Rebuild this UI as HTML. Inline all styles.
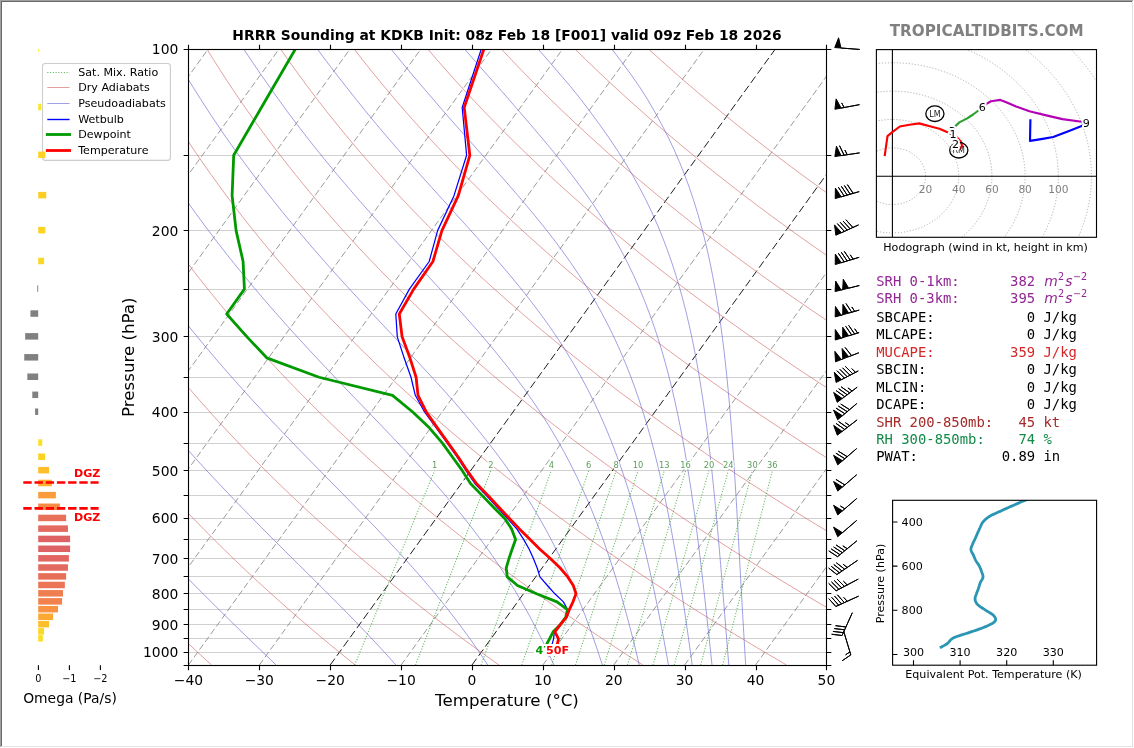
<!DOCTYPE html>
<html><head><meta charset="utf-8"><title>HRRR Sounding KDKB</title>
<style>html,body{margin:0;padding:0;background:#fff;}body{width:1134px;height:748px;overflow:hidden;}svg{display:block;}</style>
</head><body>
<svg width="1134" height="748" viewBox="0 0 1134 748" font-family="'DejaVu Sans', 'Liberation Sans', sans-serif">
<rect width="1134" height="748" fill="#fff"/>
<clipPath id="cs"><rect x="188.4" y="49.05" width="638" height="616"/></clipPath>
<g clip-path="url(#cs)">
<path d="M188.4 155.5H826.4M188.4 230.5H826.4M188.4 289.5H826.4M188.4 336.5H826.4M188.4 377.5H826.4M188.4 412.5H826.4M188.4 443.5H826.4M188.4 470.5H826.4M188.4 495.5H826.4M188.4 518.5H826.4M188.4 539.5H826.4M188.4 558.5H826.4M188.4 576.5H826.4M188.4 593.5H826.4M188.4 609.5H826.4M188.4 624.5H826.4M188.4 638.5H826.4M188.4 652.5H826.4" stroke="#d0d0d0" stroke-width="1.1" fill="none"/>
<path d="M-449.59 665.05L-4.48 49.05M-378.7 665.05L66.41 49.05M-307.82 665.05L137.3 49.05M-236.93 665.05L208.19 49.05M-166.04 665.05L279.08 49.05M-95.15 665.05L349.97 49.05M-24.26 665.05L420.85 49.05M46.63 665.05L491.74 49.05M117.52 665.05L562.63 49.05M188.41 665.05L633.52 49.05M259.3 665.05L704.41 49.05M401.07 665.05L846.19 49.05M542.85 665.05L987.97 49.05M613.74 665.05L1058.86 49.05M684.63 665.05L1129.74 49.05M755.52 665.05L1200.63 49.05M826.41 665.05L1271.52 49.05" stroke="#888" stroke-opacity="0.85" stroke-width="1" stroke-dasharray="6.5 3" fill="none"/>
<path d="M330.19 665.05L775.3 49.05M471.96 665.05L917.08 49.05" stroke="#111" stroke-width="0.95" stroke-dasharray="7.9 3.5" fill="none"/>
<path d="M211.52 665.04 L200.16 654.6 L189.01 644.16 L178.08 633.72 L167.35 623.28 L156.83 612.84 L146.51 602.4 L136.39 591.96 L126.47 581.52 L116.75 571.08 L107.23 560.63 L97.89 550.19 L88.75 539.75 L79.8 529.31 L71.03 518.87 L62.44 508.43 L54.04 497.99 L45.82 487.55 L37.77 477.11 L29.9 466.67 L22.21 456.23 L14.69 445.79 L7.33 435.35 L0.15 424.91 L-6.87 414.47 L-13.73 404.03 L-20.42 393.59 L-26.95 383.15 L-33.32 372.71 L-39.54 362.27 L-45.6 351.82 L-51.51 341.38 L-57.26 330.94 L-62.87 320.5 L-68.33 310.06 L-73.64 299.62 L-78.8 289.18 L-83.82 278.74 L-88.7 268.3 L-93.44 257.86 L-98.05 247.42 L-102.51 236.98 L-106.84 226.54 L-111.03 216.1 L-115.1 205.66 L-119.03 195.22 L-122.83 184.78 L-126.51 174.34 L-130.05 163.9 L-133.48 153.46 L-136.77 143.01 L-139.95 132.57 L-143.01 122.13 L-145.94 111.69 L-148.76 101.25 L-151.46 90.81 L-154.05 80.37 L-156.52 69.93 L-158.88 59.49 L-161.12 49.05M355.28 665.04 L342.3 654.6 L329.55 644.16 L317.03 633.72 L304.73 623.28 L292.66 612.84 L280.81 602.4 L269.18 591.96 L257.76 581.52 L246.56 571.08 L235.57 560.63 L224.79 550.19 L214.21 539.75 L203.84 529.31 L193.68 518.87 L183.71 508.43 L173.94 497.99 L164.36 487.55 L154.98 477.11 L145.79 466.67 L136.79 456.23 L127.97 445.79 L119.34 435.35 L110.89 424.91 L102.62 414.47 L94.53 404.03 L86.62 393.59 L78.88 383.15 L71.31 372.71 L63.92 362.27 L56.69 351.82 L49.63 341.38 L42.73 330.94 L36 320.5 L29.43 310.06 L23.01 299.62 L16.76 289.18 L10.66 278.74 L4.71 268.3 L-1.08 257.86 L-6.73 247.42 L-12.22 236.98 L-17.57 226.54 L-22.77 216.1 L-27.83 205.66 L-32.75 195.22 L-37.52 184.78 L-42.16 174.34 L-46.66 163.9 L-51.02 153.46 L-55.25 143.01 L-59.35 132.57 L-63.31 122.13 L-67.15 111.69 L-70.85 101.25 L-74.43 90.81 L-77.89 80.37 L-81.22 69.93 L-84.42 59.49 L-87.51 49.05M499.04 665.04 L484.44 654.6 L470.09 644.16 L455.98 633.72 L442.11 623.28 L428.49 612.84 L415.11 602.4 L401.96 591.96 L389.05 581.52 L376.37 571.08 L363.91 560.63 L351.68 550.19 L339.68 539.75 L327.89 529.31 L316.33 518.87 L304.97 508.43 L293.83 497.99 L282.91 487.55 L272.19 477.11 L261.67 466.67 L251.36 456.23 L241.26 445.79 L231.35 435.35 L221.64 424.91 L212.12 414.47 L202.79 404.03 L193.66 393.59 L184.71 383.15 L175.95 372.71 L167.37 362.27 L158.98 351.82 L150.76 341.38 L142.73 330.94 L134.87 320.5 L127.18 310.06 L119.66 299.62 L112.32 289.18 L105.14 278.74 L98.13 268.3 L91.28 257.86 L84.59 247.42 L78.07 236.98 L71.7 226.54 L65.49 216.1 L59.44 205.66 L53.54 195.22 L47.79 184.78 L42.19 174.34 L36.74 163.9 L31.43 153.46 L26.28 143.01 L21.26 132.57 L16.39 122.13 L11.65 111.69 L7.06 101.25 L2.6 90.81 L-1.73 80.37 L-5.92 69.93 L-9.97 59.49 L-13.9 49.05M642.8 665.04 L626.58 654.6 L610.62 644.16 L594.93 633.72 L579.5 623.28 L564.33 612.84 L549.41 602.4 L534.75 591.96 L520.34 581.52 L506.17 571.08 L492.25 560.63 L478.58 550.19 L465.14 539.75 L451.94 529.31 L438.97 518.87 L426.24 508.43 L413.73 497.99 L401.45 487.55 L389.4 477.11 L377.56 466.67 L365.94 456.23 L354.54 445.79 L343.35 435.35 L332.38 424.91 L321.61 414.47 L311.05 404.03 L300.7 393.59 L290.54 383.15 L280.59 372.71 L270.83 362.27 L261.27 351.82 L251.9 341.38 L242.72 330.94 L233.73 320.5 L224.93 310.06 L216.31 299.62 L207.87 289.18 L199.62 278.74 L191.54 268.3 L183.64 257.86 L175.91 247.42 L168.36 236.98 L160.97 226.54 L153.76 216.1 L146.71 205.66 L139.82 195.22 L133.1 184.78 L126.54 174.34 L120.14 163.9 L113.89 153.46 L107.8 143.01 L101.87 132.57 L96.08 122.13 L90.45 111.69 L84.96 101.25 L79.63 90.81 L74.43 80.37 L69.39 69.93 L64.48 59.49 L59.71 49.05M786.57 665.04 L768.72 654.6 L751.16 644.16 L733.88 633.72 L716.88 623.28 L700.16 612.84 L683.71 602.4 L667.53 591.96 L651.63 581.52 L635.98 571.08 L620.6 560.63 L605.47 550.19 L590.6 539.75 L575.99 529.31 L561.62 518.87 L547.5 508.43 L533.63 497.99 L520 487.55 L506.6 477.11 L493.44 466.67 L480.52 456.23 L467.83 445.79 L455.36 435.35 L443.12 424.91 L431.11 414.47 L419.31 404.03 L407.73 393.59 L396.37 383.15 L385.22 372.71 L374.29 362.27 L363.56 351.82 L353.04 341.38 L342.72 330.94 L332.6 320.5 L322.68 310.06 L312.96 299.62 L303.43 289.18 L294.1 278.74 L284.96 268.3 L276 257.86 L267.23 247.42 L258.65 236.98 L250.24 226.54 L242.02 216.1 L233.97 205.66 L226.1 195.22 L218.41 184.78 L210.88 174.34 L203.53 163.9 L196.35 153.46 L189.33 143.01 L182.47 132.57 L175.78 122.13 L169.25 111.69 L162.87 101.25 L156.66 90.81 L150.59 80.37 L144.69 69.93 L138.93 59.49 L133.33 49.05M930.33 665.04 L910.86 654.6 L891.69 644.16 L872.83 633.72 L854.26 623.28 L835.99 612.84 L818.01 602.4 L800.32 591.96 L782.91 581.52 L765.79 571.08 L748.94 560.63 L732.37 550.19 L716.07 539.75 L700.04 529.31 L684.27 518.87 L668.77 508.43 L653.53 497.99 L638.54 487.55 L623.81 477.11 L609.33 466.67 L595.1 456.23 L581.11 445.79 L567.37 435.35 L553.87 424.91 L540.6 414.47 L527.57 404.03 L514.77 393.59 L502.2 383.15 L489.86 372.71 L477.74 362.27 L465.85 351.82 L454.17 341.38 L442.71 330.94 L431.47 320.5 L420.43 310.06 L409.61 299.62 L398.99 289.18 L388.58 278.74 L378.37 268.3 L368.36 257.86 L358.55 247.42 L348.93 236.98 L339.51 226.54 L330.28 216.1 L321.24 205.66 L312.39 195.22 L303.72 184.78 L295.23 174.34 L286.93 163.9 L278.8 153.46 L270.85 143.01 L263.08 132.57 L255.47 122.13 L248.04 111.69 L240.78 101.25 L233.69 90.81 L226.76 80.37 L219.99 69.93 L213.38 59.49 L206.94 49.05M1074.09 665.04 L1053 654.6 L1032.23 644.16 L1011.78 633.72 L991.65 623.28 L971.83 612.84 L952.31 602.4 L933.11 591.96 L914.2 581.52 L895.59 571.08 L877.28 560.63 L859.26 550.19 L841.53 539.75 L824.08 529.31 L806.92 518.87 L790.03 508.43 L773.42 497.99 L757.09 487.55 L741.02 477.11 L725.22 466.67 L709.68 456.23 L694.4 445.79 L679.38 435.35 L664.61 424.91 L650.1 414.47 L635.83 404.03 L621.81 393.59 L608.03 383.15 L594.5 372.71 L581.2 362.27 L568.14 351.82 L555.31 341.38 L542.71 330.94 L530.33 320.5 L518.18 310.06 L506.26 299.62 L494.55 289.18 L483.06 278.74 L471.78 268.3 L460.72 257.86 L449.87 247.42 L439.22 236.98 L428.78 226.54 L418.55 216.1 L408.51 205.66 L398.67 195.22 L389.03 184.78 L379.58 174.34 L370.32 163.9 L361.26 153.46 L352.38 143.01 L343.68 132.57 L335.17 122.13 L326.84 111.69 L318.69 101.25 L310.71 90.81 L302.92 80.37 L295.29 69.93 L287.83 59.49 L280.55 49.05M1217.85 665.04 L1195.14 654.6 L1172.76 644.16 L1150.73 633.72 L1129.03 623.28 L1107.66 612.84 L1086.61 602.4 L1065.89 591.96 L1045.49 581.52 L1025.4 571.08 L1005.63 560.63 L986.16 550.19 L966.99 539.75 L948.13 529.31 L929.57 518.87 L911.3 508.43 L893.32 497.99 L875.63 487.55 L858.22 477.11 L841.1 466.67 L824.25 456.23 L807.68 445.79 L791.38 435.35 L775.36 424.91 L759.59 414.47 L744.09 404.03 L728.85 393.59 L713.87 383.15 L699.14 372.71 L684.66 362.27 L670.43 351.82 L656.44 341.38 L642.7 330.94 L629.2 320.5 L615.93 310.06 L602.91 299.62 L590.11 289.18 L577.54 278.74 L565.2 268.3 L553.08 257.86 L541.19 247.42 L529.51 236.98 L518.05 226.54 L506.81 216.1 L495.78 205.66 L484.95 195.22 L474.34 184.78 L463.93 174.34 L453.72 163.9 L443.71 153.46 L433.9 143.01 L424.29 132.57 L414.87 122.13 L405.64 111.69 L396.6 101.25 L387.74 90.81 L379.08 80.37 L370.59 69.93 L362.29 59.49 L354.16 49.05M1361.61 665.04 L1337.27 654.6 L1313.3 644.16 L1289.68 633.72 L1266.41 623.28 L1243.49 612.84 L1220.91 602.4 L1198.68 591.96 L1176.78 581.52 L1155.21 571.08 L1133.97 560.63 L1113.05 550.19 L1092.46 539.75 L1072.18 529.31 L1052.22 518.87 L1032.56 508.43 L1013.22 497.99 L994.18 487.55 L975.43 477.11 L956.99 466.67 L938.83 456.23 L920.97 445.79 L903.39 435.35 L886.1 424.91 L869.09 414.47 L852.35 404.03 L835.89 393.59 L819.7 383.15 L803.77 372.71 L788.11 362.27 L772.72 351.82 L757.58 341.38 L742.7 330.94 L728.07 320.5 L713.69 310.06 L699.55 299.62 L685.67 289.18 L672.02 278.74 L658.61 268.3 L645.44 257.86 L632.51 247.42 L619.8 236.98 L607.32 226.54 L595.07 216.1 L583.04 205.66 L571.24 195.22 L559.65 184.78 L548.28 174.34 L537.12 163.9 L526.17 153.46 L515.43 143.01 L504.89 132.57 L494.56 122.13 L484.43 111.69 L474.51 101.25 L464.77 90.81 L455.24 80.37 L445.89 69.93 L436.74 59.49 L427.77 49.05M1505.37 665.04 L1479.41 654.6 L1453.84 644.16 L1428.63 633.72 L1403.79 623.28 L1379.32 612.84 L1355.22 602.4 L1331.46 591.96 L1308.06 581.52 L1285.02 571.08 L1262.31 560.63 L1239.95 550.19 L1217.92 539.75 L1196.23 529.31 L1174.87 518.87 L1153.83 508.43 L1133.12 497.99 L1112.72 487.55 L1092.64 477.11 L1072.87 466.67 L1053.41 456.23 L1034.25 445.79 L1015.4 435.35 L996.84 424.91 L978.58 414.47 L960.61 404.03 L942.93 393.59 L925.53 383.15 L908.41 372.71 L891.57 362.27 L875.01 351.82 L858.71 341.38 L842.69 330.94 L826.93 320.5 L811.44 310.06 L796.2 299.62 L781.23 289.18 L766.5 278.74 L752.03 268.3 L737.8 257.86 L723.83 247.42 L710.09 236.98 L696.59 226.54 L683.34 216.1 L670.31 205.66 L657.52 195.22 L644.96 184.78 L632.62 174.34 L620.51 163.9 L608.62 153.46 L596.95 143.01 L585.5 132.57 L574.26 122.13 L563.23 111.69 L552.41 101.25 L541.8 90.81 L531.4 80.37 L521.19 69.93 L511.19 59.49 L501.39 49.05M1649.13 665.04 L1621.55 654.6 L1594.37 644.16 L1567.58 633.72 L1541.18 623.28 L1515.16 612.84 L1489.52 602.4 L1464.25 591.96 L1439.35 581.52 L1414.82 571.08 L1390.65 560.63 L1366.84 550.19 L1343.38 539.75 L1320.28 529.31 L1297.51 518.87 L1275.09 508.43 L1253.01 497.99 L1231.26 487.55 L1209.85 477.11 L1188.76 466.67 L1167.99 456.23 L1147.54 445.79 L1127.41 435.35 L1107.59 424.91 L1088.08 414.47 L1068.87 404.03 L1049.96 393.59 L1031.36 383.15 L1013.05 372.71 L995.03 362.27 L977.3 351.82 L959.85 341.38 L942.68 330.94 L925.8 320.5 L909.19 310.06 L892.85 299.62 L876.78 289.18 L860.98 278.74 L845.44 268.3 L830.17 257.86 L815.15 247.42 L800.38 236.98 L785.87 226.54 L771.6 216.1 L757.58 205.66 L743.8 195.22 L730.27 184.78 L716.97 174.34 L703.91 163.9 L691.08 153.46 L678.48 143.01 L666.1 132.57 L653.96 122.13 L642.03 111.69 L630.32 101.25 L618.83 90.81 L607.56 80.37 L596.5 69.93 L585.64 59.49 L575 49.05M1792.89 665.04 L1763.69 654.6 L1734.91 644.16 L1706.53 633.72 L1678.56 623.28 L1650.99 612.84 L1623.82 602.4 L1597.04 591.96 L1570.64 581.52 L1544.63 571.08 L1519 560.63 L1493.74 550.19 L1468.85 539.75 L1444.32 529.31 L1420.16 518.87 L1396.36 508.43 L1372.91 497.99 L1349.81 487.55 L1327.05 477.11 L1304.64 466.67 L1282.57 456.23 L1260.83 445.79 L1239.41 435.35 L1218.33 424.91 L1197.57 414.47 L1177.13 404.03 L1157 393.59 L1137.19 383.15 L1117.68 372.71 L1098.48 362.27 L1079.58 351.82 L1060.98 341.38 L1042.68 330.94 L1024.67 320.5 L1006.94 310.06 L989.5 299.62 L972.34 289.18 L955.46 278.74 L938.86 268.3 L922.53 257.86 L906.46 247.42 L890.67 236.98 L875.14 226.54 L859.86 216.1 L844.85 205.66 L830.09 195.22 L815.58 184.78 L801.32 174.34 L787.3 163.9 L773.53 153.46 L760 143.01 L746.71 132.57 L733.65 122.13 L720.83 111.69 L708.23 101.25 L695.86 90.81 L683.72 80.37 L671.8 69.93 L660.09 59.49 L648.61 49.05" stroke="#d06060" stroke-opacity="0.6" stroke-width="1" fill="none"/>
<path d="M-124.32 49.05 L-121.05 61.62 L-117.61 74.19 L-113.99 86.76 L-110.27 99.33 L-106.43 111.91 L-102.37 124.48 L-98.12 137.05 L-93.68 149.62 L-89.05 162.19 L-84.22 174.76 L-79.2 187.33 L-73.99 199.9 L-68.58 212.48 L-62.97 225.05 L-57.15 237.62 L-51.13 250.19 L-44.9 262.76 L-38.45 275.33 L-31.8 287.9 L-24.92 300.47 L-17.83 313.05 L-10.51 325.62 L-2.97 338.19 L4.8 350.76 L12.8 363.33 L21.04 375.9 L29.52 388.47 L38.23 401.04 L47.19 413.62 L56.4 426.19 L65.86 438.76 L75.56 451.33 L85.52 463.9 L95.74 476.47 L106.21 489.04 L116.94 501.61 L127.92 514.19 L139.15 526.76 L150.64 539.33 L162.36 551.9 L174.32 564.47 L186.5 577.04 L198.89 589.61 L211.46 602.18 L224.19 614.75 L237.06 627.33 L250.02 639.9 L263.05 652.47 L276.08 665.04M-50.71 49.05 L-46.42 61.62 L-41.95 74.19 L-37.29 86.76 L-32.51 99.33 L-27.61 111.91 L-22.47 124.48 L-17.12 137.05 L-11.57 149.62 L-5.81 162.19 L0.16 174.76 L6.34 187.33 L12.73 199.9 L19.33 212.48 L26.15 225.05 L33.2 237.62 L40.46 250.19 L47.95 262.76 L55.67 275.33 L63.62 287.9 L71.8 300.47 L80.23 313.05 L88.89 325.62 L97.79 338.19 L106.94 350.76 L116.34 363.33 L125.99 375.9 L135.89 388.47 L146.05 401.04 L156.45 413.62 L167.11 426.19 L178.02 438.76 L189.18 451.33 L200.57 463.9 L212.2 476.47 L224.05 489.04 L236.1 501.61 L248.34 514.19 L260.74 526.76 L273.27 539.33 L285.9 551.9 L298.57 564.47 L311.26 577.04 L323.9 589.61 L336.45 602.18 L348.85 614.75 L361.06 627.33 L373.01 639.9 L384.67 652.47 L396.01 665.04M22.91 49.05 L28.21 61.62 L33.71 74.19 L39.42 86.76 L45.25 99.33 L51.21 111.91 L57.43 124.48 L63.87 137.05 L70.54 149.62 L77.43 162.19 L84.54 174.76 L91.88 187.33 L99.44 199.9 L107.24 212.48 L115.27 225.05 L123.53 237.62 L132.04 250.19 L140.78 262.76 L149.77 275.33 L159.01 287.9 L168.49 300.47 L178.23 313.05 L188.21 325.62 L198.45 338.19 L208.93 350.76 L219.66 363.33 L230.63 375.9 L241.84 388.47 L253.28 401.04 L264.93 413.62 L276.77 426.19 L288.79 438.76 L300.96 451.33 L313.23 463.9 L325.59 476.47 L337.97 489.04 L350.33 501.61 L362.61 514.19 L374.77 526.76 L386.74 539.33 L398.47 551.9 L409.91 564.47 L421.01 577.04 L431.76 589.61 L442.11 602.18 L452.06 614.75 L461.6 627.33 L470.72 639.9 L479.44 652.47 L487.76 665.04M96.52 49.05 L102.84 61.62 L109.37 74.19 L116.12 86.76 L123 99.33 L130.03 111.91 L137.33 124.48 L144.87 137.05 L152.65 149.62 L160.66 162.19 L168.92 174.76 L177.41 187.33 L186.15 199.9 L195.13 212.48 L204.35 225.05 L213.83 237.62 L223.55 250.19 L233.52 262.76 L243.74 275.33 L254.21 287.9 L264.92 300.47 L275.86 313.05 L287.03 325.62 L298.41 338.19 L309.98 350.76 L321.73 363.33 L333.63 375.9 L345.64 388.47 L357.72 401.04 L369.83 413.62 L381.92 426.19 L393.92 438.76 L405.78 451.33 L417.44 463.9 L428.84 476.47 L439.94 489.04 L450.69 501.61 L461.05 514.19 L471.01 526.76 L480.54 539.33 L489.64 551.9 L498.3 564.47 L506.55 577.04 L514.38 589.61 L521.83 602.18 L528.9 614.75 L535.62 627.33 L542.02 639.9 L548.11 652.47 L553.92 665.04M170.13 49.05 L177.47 61.62 L185.03 74.19 L192.82 86.76 L200.76 99.33 L208.84 111.91 L217.22 124.48 L225.85 137.05 L234.73 149.62 L243.86 162.19 L253.24 174.76 L262.87 187.33 L272.75 199.9 L282.87 212.48 L293.24 225.05 L303.84 237.62 L314.67 250.19 L325.73 262.76 L336.98 275.33 L348.42 287.9 L360.02 300.47 L371.75 313.05 L383.56 325.62 L395.42 338.19 L407.27 350.76 L419.06 363.33 L430.73 375.9 L442.2 388.47 L453.43 401.04 L464.37 413.62 L474.95 426.19 L485.14 438.76 L494.91 451.33 L504.24 463.9 L513.12 476.47 L521.56 489.04 L529.55 501.61 L537.12 514.19 L544.28 526.76 L551.05 539.33 L557.45 551.9 L563.51 564.47 L569.25 577.04 L574.7 589.61 L579.87 602.18 L584.8 614.75 L589.49 627.33 L593.98 639.9 L598.28 652.47 L602.4 665.04M243.74 49.05 L252.09 61.62 L260.68 74.19 L269.51 86.76 L278.49 99.33 L287.62 111.91 L297.05 124.48 L306.74 137.05 L316.69 149.62 L326.88 162.19 L337.31 174.76 L347.97 187.33 L358.85 199.9 L369.92 212.48 L381.18 225.05 L392.59 237.62 L404.12 250.19 L415.73 262.76 L427.37 275.33 L438.98 287.9 L450.51 300.47 L461.9 313.05 L473.08 325.62 L483.98 338.19 L494.56 350.76 L504.76 363.33 L514.54 375.9 L523.89 388.47 L532.77 401.04 L541.19 413.62 L549.15 426.19 L556.66 438.76 L563.74 451.33 L570.4 463.9 L576.67 476.47 L582.57 489.04 L588.13 501.61 L593.38 514.19 L598.33 526.76 L603.01 539.33 L607.45 551.9 L611.65 564.47 L615.66 577.04 L619.47 589.61 L623.12 602.18 L626.61 614.75 L629.96 627.33 L633.19 639.9 L636.3 652.47 L639.31 665.04M317.36 49.05 L326.7 61.62 L336.29 74.19 L346.12 86.76 L356.09 99.33 L366.2 111.91 L376.6 124.48 L387.23 137.05 L398.07 149.62 L409.1 162.19 L420.29 174.76 L431.6 187.33 L443 199.9 L454.43 212.48 L465.84 225.05 L477.17 237.62 L488.35 250.19 L499.32 262.76 L510.01 275.33 L520.36 287.9 L530.32 300.47 L539.86 313.05 L548.94 325.62 L557.55 338.19 L565.68 350.76 L573.33 363.33 L580.53 375.9 L587.27 388.47 L593.6 401.04 L599.52 413.62 L605.07 426.19 L610.28 438.76 L615.16 451.33 L619.74 463.9 L624.06 476.47 L628.12 489.04 L631.95 501.61 L635.58 514.19 L639.02 526.76 L642.28 539.33 L645.39 551.9 L648.36 564.47 L651.19 577.04 L653.92 589.61 L656.54 602.18 L659.07 614.75 L661.52 627.33 L663.9 639.9 L666.21 652.47 L668.47 665.04M390.97 49.05 L401.24 61.62 L411.73 74.19 L422.44 86.76 L433.22 99.33 L444.05 111.91 L455.08 124.48 L466.23 137.05 L477.44 149.62 L488.66 162.19 L499.82 174.76 L510.85 187.33 L521.69 199.9 L532.26 212.48 L542.5 225.05 L552.36 237.62 L561.79 250.19 L570.76 262.76 L579.25 275.33 L587.24 287.9 L594.75 300.47 L601.78 313.05 L608.35 325.62 L614.48 338.19 L620.2 350.76 L625.53 363.33 L630.5 375.9 L635.14 388.47 L639.47 401.04 L643.52 413.62 L647.31 426.19 L650.87 438.76 L654.21 451.33 L657.35 463.9 L660.32 476.47 L663.12 489.04 L665.78 501.61 L668.3 514.19 L670.71 526.76 L673.01 539.33 L675.21 551.9 L677.33 564.47 L679.37 577.04 L681.34 589.61 L683.26 602.18 L685.12 614.75 L686.94 627.33 L688.73 639.9 L690.48 652.47 L692.21 665.04M464.58 49.05 L475.54 61.62 L486.62 74.19 L497.78 86.76 L508.81 99.33 L519.64 111.91 L530.47 124.48 L541.18 137.05 L551.66 149.62 L561.85 162.19 L571.68 174.76 L581.1 187.33 L590.07 199.9 L598.55 212.48 L606.54 225.05 L614.03 237.62 L621.02 250.19 L627.54 262.76 L633.6 275.33 L639.23 287.9 L644.45 300.47 L649.3 313.05 L653.79 325.62 L657.96 338.19 L661.84 350.76 L665.45 363.33 L668.8 375.9 L671.93 388.47 L674.86 401.04 L677.59 413.62 L680.16 426.19 L682.57 438.76 L684.84 451.33 L686.98 463.9 L689.01 476.47 L690.94 489.04 L692.78 501.61 L694.54 514.19 L696.22 526.76 L697.84 539.33 L699.4 551.9 L700.91 564.47 L702.38 577.04 L703.82 589.61 L705.23 602.18 L706.61 614.75 L707.97 627.33 L709.32 639.9 L710.66 652.47 L712 665.04M538.19 49.05 L549.17 61.62 L560.02 74.19 L570.69 86.76 L580.8 99.33 L590.28 111.91 L599.56 124.48 L608.46 137.05 L616.92 149.62 L624.9 162.19 L632.38 174.76 L639.37 187.33 L645.88 199.9 L651.91 212.48 L657.5 225.05 L662.66 237.62 L667.43 250.19 L671.83 262.76 L675.9 275.33 L679.65 287.9 L683.12 300.47 L686.32 313.05 L689.28 325.62 L692.03 338.19 L694.58 350.76 L696.95 363.33 L699.15 375.9 L701.2 388.47 L703.12 401.04 L704.92 413.62 L706.61 426.19 L708.2 438.76 L709.71 451.33 L711.13 463.9 L712.48 476.47 L713.78 489.04 L715.01 501.61 L716.2 514.19 L717.35 526.76 L718.47 539.33 L719.55 551.9 L720.61 564.47 L721.66 577.04 L722.69 589.61 L723.71 602.18 L724.73 614.75 L725.74 627.33 L726.76 639.9 L727.79 652.47 L728.83 665.04M611.8 49.05 L621.48 61.62 L630.72 74.19 L639.49 86.76 L647.51 99.33 L654.79 111.91 L661.69 124.48 L668.11 137.05 L674.06 149.62 L679.55 162.19 L684.6 174.76 L689.24 187.33 L693.5 199.9 L697.4 212.48 L700.98 225.05 L704.27 237.62 L707.28 250.19 L710.04 262.76 L712.57 275.33 L714.89 287.9 L717.03 300.47 L719 313.05 L720.81 325.62 L722.48 338.19 L724.02 350.76 L725.45 363.33 L726.78 375.9 L728.01 388.47 L729.16 401.04 L730.24 413.62 L731.25 426.19 L732.2 438.76 L733.1 451.33 L733.96 463.9 L734.78 476.47 L735.56 489.04 L736.32 501.61 L737.06 514.19 L737.77 526.76 L738.48 539.33 L739.18 551.9 L739.87 564.47 L740.57 577.04 L741.26 589.61 L741.97 602.18 L742.68 614.75 L743.41 627.33 L744.15 639.9 L744.91 652.47 L745.69 665.04" stroke="#6060d0" stroke-opacity="0.6" stroke-width="1" fill="none"/>
<path d="M354.67 665.04 L434.52 470.67M415.58 665.04 L490.85 470.67M481.12 665.04 L551.29 470.67M521.77 665.04 L588.67 470.67M551.68 665.04 L616.14 470.67M575.51 665.04 L637.99 470.67M604.23 665.04 L664.3 470.67M627.5 665.04 L685.59 470.67M653.02 665.04 L708.91 470.67M674.25 665.04 L728.29 470.67M700.69 665.04 L752.4 470.67M722.63 665.04 L772.38 470.67" stroke="#2ca02c" stroke-opacity="0.8" stroke-width="1.04" stroke-dasharray="1.04 1.72" fill="none"/>
</g>
<text x="434.52" y="468.07" font-size="8.3" text-anchor="middle" fill="#5a9e5a" stroke="#fff" stroke-width="2.6" stroke-linejoin="round" paint-order="stroke">1</text>
<text x="490.85" y="468.07" font-size="8.3" text-anchor="middle" fill="#5a9e5a" stroke="#fff" stroke-width="2.6" stroke-linejoin="round" paint-order="stroke">2</text>
<text x="551.29" y="468.07" font-size="8.3" text-anchor="middle" fill="#5a9e5a" stroke="#fff" stroke-width="2.6" stroke-linejoin="round" paint-order="stroke">4</text>
<text x="588.67" y="468.07" font-size="8.3" text-anchor="middle" fill="#5a9e5a" stroke="#fff" stroke-width="2.6" stroke-linejoin="round" paint-order="stroke">6</text>
<text x="616.14" y="468.07" font-size="8.3" text-anchor="middle" fill="#5a9e5a" stroke="#fff" stroke-width="2.6" stroke-linejoin="round" paint-order="stroke">8</text>
<text x="637.99" y="468.07" font-size="8.3" text-anchor="middle" fill="#5a9e5a" stroke="#fff" stroke-width="2.6" stroke-linejoin="round" paint-order="stroke">10</text>
<text x="664.3" y="468.07" font-size="8.3" text-anchor="middle" fill="#5a9e5a" stroke="#fff" stroke-width="2.6" stroke-linejoin="round" paint-order="stroke">13</text>
<text x="685.59" y="468.07" font-size="8.3" text-anchor="middle" fill="#5a9e5a" stroke="#fff" stroke-width="2.6" stroke-linejoin="round" paint-order="stroke">16</text>
<text x="708.91" y="468.07" font-size="8.3" text-anchor="middle" fill="#5a9e5a" stroke="#fff" stroke-width="2.6" stroke-linejoin="round" paint-order="stroke">20</text>
<text x="728.29" y="468.07" font-size="8.3" text-anchor="middle" fill="#5a9e5a" stroke="#fff" stroke-width="2.6" stroke-linejoin="round" paint-order="stroke">24</text>
<text x="752.4" y="468.07" font-size="8.3" text-anchor="middle" fill="#5a9e5a" stroke="#fff" stroke-width="2.6" stroke-linejoin="round" paint-order="stroke">30</text>
<text x="772.38" y="468.07" font-size="8.3" text-anchor="middle" fill="#5a9e5a" stroke="#fff" stroke-width="2.6" stroke-linejoin="round" paint-order="stroke">36</text>
<g clip-path="url(#cs)" fill="none" stroke-linejoin="round" stroke-linecap="square">
<path d="M481.3 49.05 L462.2 107.51 L466.6 155.27 L454 195.65 L437.6 230.63 L429.2 261.49 L409.4 289.09 L395.8 314.06 L397.3 336.85 L404.1 357.82 L411 377.24 L415.3 395.31 L424.7 412.22 L436.4 428.1 L447.2 443.07 L457.2 457.24 L466 470.67 L474.8 483.46 L486.4 495.64 L497.1 507.29 L507.4 518.44 L517 529.13 L523.6 539.41 L529.2 549.29 L533.5 558.82 L537.2 568.01 L539.9 576.89 L547.4 585.48 L554.9 593.8 L563.4 601.86 L567.7 609.68 L566 617.28 L560.3 624.66 L554.3 631.83 L553.6 638.82 L552.3 643.47" stroke="#0000ff" stroke-width="1.25"/>
<path d="M295.4 49.05 L261.4 107.51 L233.7 155.27 L232.1 195.65 L236.1 230.63 L243.1 261.49 L244.4 289.09 L226.7 314.06 L247 336.85 L266.7 357.82 L319.1 377.24 L392.5 395.31 L413 412.22 L429.6 428.1 L442.4 443.07 L452.6 457.24 L462.3 470.67 L470.5 483.46 L482.3 495.64 L493.5 507.29 L504.7 518.44 L511.7 529.13 L515.6 539.41 L512.1 549.29 L508.9 558.82 L506.2 568.01 L507.3 576.89 L517.5 585.48 L536.5 593.8 L557 601.86 L567.5 609.68 L565.7 617.28 L560.3 624.66 L553.1 631.83 L549.5 638.82 L547.1 643.47" stroke="#009a00" stroke-width="2.8"/>
<path d="M483.9 49.05 L464.2 107.51 L469.8 155.27 L458.3 195.65 L441.9 230.63 L432.9 261.49 L413.7 289.09 L399.3 314.06 L402.1 336.85 L409.9 357.82 L416.1 377.24 L418 395.31 L426.4 412.22 L437.6 428.1 L448.3 443.07 L458.4 457.24 L467.2 470.67 L476.4 483.46 L488.2 495.64 L498.9 507.29 L509.5 518.44 L519.7 529.13 L530.1 539.41 L539.9 549.29 L550.6 558.82 L560.2 568.01 L567.7 576.89 L573.3 585.48 L576 593.8 L573 601.86 L569.3 609.68 L566.3 617.28 L560.3 624.66 L554.9 631.83 L558.5 638.82 L557.5 643.47" stroke="#ff0000" stroke-width="2.8"/>
</g>
<text x="547.1" y="653.67" font-size="11.1" text-anchor="middle" fill="#009a00" font-weight="bold" stroke="#fff" stroke-width="4" stroke-linejoin="round" paint-order="stroke">47F</text>
<text x="557.5" y="653.67" font-size="11.1" text-anchor="middle" fill="#ff0000" font-weight="bold" stroke="#fff" stroke-width="4" stroke-linejoin="round" paint-order="stroke">50F</text>
<rect x="188.5" y="49.5" width="638" height="616" fill="none" stroke="#000" stroke-width="1.11"/>
<path d="M183.64 49.5H188.5M826.5 49.5H831.36M183.64 155.5H188.5M826.5 155.5H831.36M183.64 230.5H188.5M826.5 230.5H831.36M183.64 289.5H188.5M826.5 289.5H831.36M183.64 336.5H188.5M826.5 336.5H831.36M183.64 377.5H188.5M826.5 377.5H831.36M183.64 412.5H188.5M826.5 412.5H831.36M183.64 443.5H188.5M826.5 443.5H831.36M183.64 470.5H188.5M826.5 470.5H831.36M183.64 495.5H188.5M826.5 495.5H831.36M183.64 518.5H188.5M826.5 518.5H831.36M183.64 539.5H188.5M826.5 539.5H831.36M183.64 558.5H188.5M826.5 558.5H831.36M183.64 576.5H188.5M826.5 576.5H831.36M183.64 593.5H188.5M826.5 593.5H831.36M183.64 609.5H188.5M826.5 609.5H831.36M183.64 624.5H188.5M826.5 624.5H831.36M183.64 638.5H188.5M826.5 638.5H831.36M183.64 652.5H188.5M826.5 652.5H831.36M183.64 665.5H188.5M826.5 665.5H831.36M188.5 665.5V670.36M188.5 49.5V44.64M259.5 665.5V670.36M259.5 49.5V44.64M330.5 665.5V670.36M330.5 49.5V44.64M401.5 665.5V670.36M401.5 49.5V44.64M472.5 665.5V670.36M472.5 49.5V44.64M543.5 665.5V670.36M543.5 49.5V44.64M614.5 665.5V670.36M614.5 49.5V44.64M685.5 665.5V670.36M685.5 49.5V44.64M756.5 665.5V670.36M756.5 49.5V44.64M826.5 665.5V670.36M826.5 49.5V44.64" stroke="#000" stroke-width="1.11" fill="none"/>
<text x="178.3" y="54.05" font-size="13.89" text-anchor="end" fill="#000" >100</text>
<text x="178.3" y="235.63" font-size="13.89" text-anchor="end" fill="#000" >200</text>
<text x="178.3" y="341.85" font-size="13.89" text-anchor="end" fill="#000" >300</text>
<text x="178.3" y="417.22" font-size="13.89" text-anchor="end" fill="#000" >400</text>
<text x="178.3" y="475.67" font-size="13.89" text-anchor="end" fill="#000" >500</text>
<text x="178.3" y="523.44" font-size="13.89" text-anchor="end" fill="#000" >600</text>
<text x="178.3" y="563.82" font-size="13.89" text-anchor="end" fill="#000" >700</text>
<text x="178.3" y="598.8" font-size="13.89" text-anchor="end" fill="#000" >800</text>
<text x="178.3" y="629.66" font-size="13.89" text-anchor="end" fill="#000" >900</text>
<text x="178.3" y="657.26" font-size="13.89" text-anchor="end" fill="#000" >1000</text>
<text x="188.4" y="684.9" font-size="13.89" text-anchor="middle" fill="#000" >−40</text>
<text x="259.29" y="684.9" font-size="13.89" text-anchor="middle" fill="#000" >−30</text>
<text x="330.18" y="684.9" font-size="13.89" text-anchor="middle" fill="#000" >−20</text>
<text x="401.07" y="684.9" font-size="13.89" text-anchor="middle" fill="#000" >−10</text>
<text x="471.96" y="684.9" font-size="13.89" text-anchor="middle" fill="#000" >0</text>
<text x="542.85" y="684.9" font-size="13.89" text-anchor="middle" fill="#000" >10</text>
<text x="613.73" y="684.9" font-size="13.89" text-anchor="middle" fill="#000" >20</text>
<text x="684.62" y="684.9" font-size="13.89" text-anchor="middle" fill="#000" >30</text>
<text x="755.51" y="684.9" font-size="13.89" text-anchor="middle" fill="#000" >40</text>
<text x="826.4" y="684.9" font-size="13.89" text-anchor="middle" fill="#000" >50</text>
<text x="507" y="706" font-size="16.67" text-anchor="middle" fill="#000" >Temperature (°C)</text>
<text transform="translate(134.2 357.2) rotate(-90)" font-size="16.67" text-anchor="middle">Pressure (hPa)</text>
<text x="507" y="39.9" font-size="13.89" text-anchor="middle" fill="#000" font-weight="bold" >HRRR Sounding at KDKB Init: 08z Feb 18 [F001] valid 09z Feb 18 2026</text>
<g>
<polygon points="859.66,49.44 834.74,47.56 838.61,37.82 840.97,48.03" fill="#000" stroke="#000" stroke-width="1.0" stroke-linejoin="miter"/>
<polygon points="859.49,104.65 834.91,109.26 836.14,98.86 841.06,108.11 844.13,107.53 841.67,102.91 844.13,107.53" fill="#000" stroke="#000" stroke-width="1.0" stroke-linejoin="miter"/>
<polygon points="859.57,152.89 834.83,156.55 836.46,146.2 841.02,155.64 844.11,155.18 839.55,145.74 844.11,155.18 847.2,154.72 844.92,150 847.2,154.72" fill="#000" stroke="#000" stroke-width="1.0" stroke-linejoin="miter"/>
<polygon points="859.2,191.62 835.2,198.59 835.41,188.11 841.2,196.85 844.2,195.97 838.41,187.24 844.2,195.97 847.2,195.1 841.41,186.37 847.2,195.1 850.2,194.23 844.41,185.5 850.2,194.23 853.2,193.36 847.41,184.63 853.2,193.36" fill="#000" stroke="#000" stroke-width="1.0" stroke-linejoin="miter"/>
<polygon points="858.57,224.89 835.83,235.28 834.52,224.89 841.52,232.68 844.36,231.38 837.36,223.59 844.36,231.38 847.2,230.08 840.2,222.29 847.2,230.08 850.04,228.78 843.04,220.99 850.04,228.78 852.88,227.48 845.88,219.69 852.88,227.48" fill="#000" stroke="#000" stroke-width="1.0" stroke-linejoin="miter"/>
<polygon points="859.16,257.32 835.24,264.56 835.33,254.09 841.22,262.75 844.21,261.85 838.32,253.18 844.21,261.85 847.2,260.94 841.31,252.27 847.2,260.94 850.19,260.03 844.3,251.37 850.19,260.03 853.18,259.13 850.24,254.8 853.18,259.13" fill="#000" stroke="#000" stroke-width="1.0" stroke-linejoin="miter"/>
<polygon points="859.33,285.52 835.07,291.56 835.69,281.1 841.14,290.05 842.65,289.67 843.27,279.21 848.72,288.16" fill="#000" stroke="#000" stroke-width="1.0" stroke-linejoin="miter"/>
<polygon points="859.22,310.07 835.18,316.95 835.43,306.48 841.19,315.23 842.69,314.8 842.95,304.33 848.7,313.08 851.71,312.22 845.95,303.47 851.71,312.22 854.71,311.36 851.83,306.98 854.71,311.36" fill="#000" stroke="#000" stroke-width="1.0" stroke-linejoin="miter"/>
<polygon points="859.14,332.59 835.26,340.02 835.28,329.54 841.23,338.16 842.72,337.7 842.74,327.22 848.69,335.84 851.68,334.91 845.72,326.29 851.68,334.91 854.66,333.98 848.7,325.36 854.66,333.98 857.64,333.05 854.67,328.74 857.64,333.05" fill="#000" stroke="#000" stroke-width="1.0" stroke-linejoin="miter"/>
<polygon points="858.85,352.75 835.55,361.8 834.84,351.34 841.37,359.53 842.83,358.97 842.12,348.52 848.66,356.71 851.57,355.58 845.04,347.38 851.57,355.58" fill="#000" stroke="#000" stroke-width="1.0" stroke-linejoin="miter"/>
<polygon points="858.28,370.9 836.12,382.47 834.26,372.16 841.66,379.58 844.43,378.13 837.03,370.72 844.43,378.13 847.2,376.69 839.8,369.27 847.2,376.69 849.97,375.24 842.57,367.82 849.97,375.24 852.74,373.79 845.34,366.38 852.74,373.79 855.51,372.35 851.81,368.64 855.51,372.35" fill="#000" stroke="#000" stroke-width="1.0" stroke-linejoin="miter"/>
<polygon points="857.15,387.19 837.25,402.33 833.68,392.48 842.23,398.55 844.71,396.65 836.17,390.59 844.71,396.65 847.2,394.76 838.66,388.7 847.2,394.76 849.69,392.87 841.14,386.8 849.69,392.87 852.17,390.97 847.9,387.94 852.17,390.97" fill="#000" stroke="#000" stroke-width="1.0" stroke-linejoin="miter"/>
<polygon points="856.74,403.59 837.66,419.75 833.58,410.1 842.43,415.71 844.82,413.69 835.97,408.08 844.82,413.69 847.2,411.67 838.35,406.06 847.2,411.67 849.58,409.65 840.74,404.04 849.58,409.65" fill="#000" stroke="#000" stroke-width="1.0" stroke-linejoin="miter"/>
<polygon points="857.08,419.9 837.32,435.2 833.67,425.38 842.26,431.38 844.73,429.46 836.14,423.47 844.73,429.46 847.2,427.55 838.61,421.56 847.2,427.55 849.67,425.64 845.37,422.64 849.67,425.64" fill="#000" stroke="#000" stroke-width="1.0" stroke-linejoin="miter"/>
<polygon points="856.66,448.52 837.74,464.86 833.57,455.25 842.47,460.77 844.84,458.73 835.93,453.21 844.84,458.73 847.2,456.69 838.3,451.16 847.2,456.69" fill="#000" stroke="#000" stroke-width="1.0" stroke-linejoin="miter"/>
<polygon points="856.66,474.73 837.74,491.08 833.57,481.47 842.47,486.99 844.84,484.95 835.93,479.42 844.84,484.95" fill="#000" stroke="#000" stroke-width="1.0" stroke-linejoin="miter"/>
<polygon points="856.66,498.56 837.74,514.91 833.57,505.3 842.47,510.83 844.84,508.78 840.38,506.02 844.84,508.78" fill="#000" stroke="#000" stroke-width="1.0" stroke-linejoin="miter"/>
<polygon points="856.68,520.43 837.72,536.73 833.57,527.11 842.46,532.65" fill="#000" stroke="#000" stroke-width="1.0" stroke-linejoin="miter"/>
<polygon points="856.88,540.83 837.52,556.65 828.77,550.89 837.52,556.65 839.94,554.68 831.19,548.91 839.94,554.68 842.36,552.7 833.61,546.93 842.36,552.7 844.78,550.72 836.03,544.95 844.78,550.72 847.2,548.74 842.83,545.86 847.2,548.74" fill="#000" stroke="#000" stroke-width="1.0" stroke-linejoin="miter"/>
<polygon points="857.51,560.39 836.89,574.53 828.66,568.06 836.89,574.53 839.47,572.77 831.24,566.29 839.47,572.77 842.05,571 833.81,564.52 842.05,571 844.62,569.23 836.39,562.75 844.62,569.23 847.2,567.46 843.08,564.22 847.2,567.46" fill="#000" stroke="#000" stroke-width="1.0" stroke-linejoin="miter"/>
<polygon points="858.25,579.1 836.15,590.77 828.71,583.38 836.15,590.77 838.91,589.31 831.48,581.92 838.91,589.31 841.67,587.85 834.24,580.47 841.67,587.85 844.44,586.39 837.01,579.01 844.44,586.39 847.2,584.93 843.48,581.24 847.2,584.93" fill="#000" stroke="#000" stroke-width="1.0" stroke-linejoin="miter"/>
<polygon points="858.58,596.15 835.82,606.47 828.84,598.66 835.82,606.47 838.66,605.18 831.69,597.37 838.66,605.18 841.51,603.89 834.53,596.08 841.51,603.89 844.35,602.6 837.38,594.79 844.35,602.6 847.2,601.31 843.71,597.4 847.2,601.31" fill="#000" stroke="#000" stroke-width="1.0" stroke-linejoin="miter"/>
<polygon points="852.33,612.71 842.07,635.5 831.67,634.25 842.07,635.5 843.35,632.65 832.95,631.4 843.35,632.65 844.63,629.81 834.23,628.55 844.63,629.81 845.92,626.96 835.52,625.7 845.92,626.96" fill="#000" stroke="#000" stroke-width="1.0" stroke-linejoin="miter"/>
<polygon points="843.58,630.95 850.82,654.88 842.15,660.77 850.82,654.88 849.91,651.89 845.58,654.83 849.91,651.89" fill="#000" stroke="#000" stroke-width="1.0" stroke-linejoin="miter"/>
</g>
<rect x="42.5" y="63.5" width="127.9" height="96.9" rx="2.8" fill="#fff" fill-opacity="0.8" stroke="#cccccc" stroke-width="1.1"/>
<path d="M47.3 72.5H69.6" stroke="#2ca02c" stroke-opacity="0.8" stroke-width="1.04" stroke-dasharray="1.04 1.72"/>
<text x="78.2" y="76.4" font-size="11.1" text-anchor="start" fill="#000" >Sat. Mix. Ratio</text>
<path d="M47.3 87.5H69.6" stroke="#d06060" stroke-opacity="0.6" stroke-width="1.0"/>
<text x="78.2" y="91.4" font-size="11.1" text-anchor="start" fill="#000" >Dry Adiabats</text>
<path d="M47.3 103.5H69.6" stroke="#6060d0" stroke-opacity="0.6" stroke-width="1.0"/>
<text x="78.2" y="107.4" font-size="11.1" text-anchor="start" fill="#000" >Pseudoadiabats</text>
<path d="M47.3 119.5H69.6" stroke="#0000ff" stroke-opacity="1" stroke-width="1.4"/>
<text x="78.2" y="123.4" font-size="11.1" text-anchor="start" fill="#000" >Wetbulb</text>
<path d="M47.3 134.5H69.6" stroke="#009a00" stroke-opacity="1" stroke-width="2.8" stroke-linecap="square"/>
<text x="78.2" y="138.4" font-size="11.1" text-anchor="start" fill="#000" >Dewpoint</text>
<path d="M47.3 150.5H69.6" stroke="#ff0000" stroke-opacity="1" stroke-width="2.8" stroke-linecap="square"/>
<text x="78.2" y="154.4" font-size="11.1" text-anchor="start" fill="#000" >Temperature</text>
<clipPath id="co"><rect x="0" y="49.05" width="188.4" height="616"/></clipPath>
<g clip-path="url(#co)">
<rect x="38.2" y="45.3" width="1.09" height="6.5" fill="#f1f426"/>
<rect x="38.2" y="103.76" width="3.1" height="6.5" fill="#f6e826"/>
<rect x="38.2" y="151.52" width="7.13" height="6.5" fill="#fcd225"/>
<rect x="38.2" y="191.9" width="8.06" height="6.5" fill="#fccd25"/>
<rect x="38.2" y="226.88" width="7.13" height="6.5" fill="#fcd225"/>
<rect x="38.2" y="257.74" width="5.89" height="6.5" fill="#fad824"/>
<rect x="37.27" y="285.34" width="0.93" height="6.5" fill="#808080"/>
<rect x="30.45" y="310.31" width="7.75" height="6.5" fill="#808080"/>
<rect x="25.18" y="333.1" width="13.02" height="6.5" fill="#808080"/>
<rect x="24.25" y="354.07" width="13.95" height="6.5" fill="#808080"/>
<rect x="27.35" y="373.49" width="10.85" height="6.5" fill="#808080"/>
<rect x="32.31" y="391.56" width="5.89" height="6.5" fill="#808080"/>
<rect x="35.1" y="408.47" width="3.1" height="6.5" fill="#808080"/>
<rect x="38.2" y="439.32" width="4.03" height="6.5" fill="#f7e225"/>
<rect x="38.2" y="453.49" width="6.82" height="6.5" fill="#fbd324"/>
<rect x="38.2" y="466.92" width="10.85" height="6.5" fill="#febe2a"/>
<rect x="38.2" y="479.71" width="13.64" height="6.5" fill="#fdaf31"/>
<rect x="38.2" y="491.89" width="17.67" height="6.5" fill="#fa9c3c"/>
<rect x="38.2" y="503.54" width="21.7" height="6.5" fill="#f58b47"/>
<rect x="38.2" y="514.69" width="27.9" height="6.5" fill="#e87059"/>
<rect x="38.2" y="525.38" width="29.76" height="6.5" fill="#e4695e"/>
<rect x="38.2" y="535.66" width="31.93" height="6.5" fill="#de6164"/>
<rect x="38.2" y="545.54" width="31.93" height="6.5" fill="#de6164"/>
<rect x="38.2" y="555.07" width="30.69" height="6.5" fill="#e26561"/>
<rect x="38.2" y="564.26" width="29.76" height="6.5" fill="#e4695e"/>
<rect x="38.2" y="573.14" width="27.9" height="6.5" fill="#e87059"/>
<rect x="38.2" y="581.73" width="26.66" height="6.5" fill="#eb7556"/>
<rect x="38.2" y="590.05" width="24.8" height="6.5" fill="#ef7e50"/>
<rect x="38.2" y="598.11" width="23.87" height="6.5" fill="#f1814d"/>
<rect x="38.2" y="605.93" width="19.84" height="6.5" fill="#f79342"/>
<rect x="38.2" y="613.53" width="14.88" height="6.5" fill="#fca934"/>
<rect x="38.2" y="620.91" width="10.85" height="6.5" fill="#febe2a"/>
<rect x="38.2" y="628.08" width="5.89" height="6.5" fill="#fad824"/>
<rect x="38.2" y="635.07" width="4.65" height="6.5" fill="#f8df25"/>
</g>
<path d="M23.3 482.5H98.6" stroke="#ff0000" stroke-width="2.6" stroke-dasharray="8.4 2.8"/>
<path d="M23.3 508.4H98.6" stroke="#ff0000" stroke-width="2.6" stroke-dasharray="8.4 2.8"/>
<text x="74" y="477.3" font-size="11.1" text-anchor="start" fill="#ff0000" font-weight="bold" >DGZ</text>
<text x="74" y="521.4" font-size="11.1" text-anchor="start" fill="#ff0000" font-weight="bold" >DGZ</text>
<path d="M38.4 665.2V670M69.4 665.2V670M100.4 665.2V670" stroke="#000" stroke-width="1.11"/>
<text x="38.4" y="681.6" font-size="9.7" text-anchor="middle" fill="#000" >0</text>
<text x="69.4" y="681.6" font-size="9.7" text-anchor="middle" fill="#000" >−1</text>
<text x="100.4" y="681.6" font-size="9.7" text-anchor="middle" fill="#000" >−2</text>
<text x="70" y="703.3" font-size="13.89" text-anchor="middle" fill="#000" >Omega (Pa/s)</text>
<clipPath id="ch"><rect x="876.4" y="49.6" width="220.1" height="187.7"/></clipPath>
<g clip-path="url(#ch)">
<ellipse cx="892.4" cy="176.2" rx="33.18" ry="28.36" fill="none" stroke="#a8a8a8" stroke-width="1" stroke-dasharray="1.1 1.9"/>
<ellipse cx="892.4" cy="176.2" rx="66.36" ry="56.72" fill="none" stroke="#a8a8a8" stroke-width="1" stroke-dasharray="1.1 1.9"/>
<ellipse cx="892.4" cy="176.2" rx="99.54" ry="85.08" fill="none" stroke="#a8a8a8" stroke-width="1" stroke-dasharray="1.1 1.9"/>
<ellipse cx="892.4" cy="176.2" rx="132.72" ry="113.44" fill="none" stroke="#a8a8a8" stroke-width="1" stroke-dasharray="1.1 1.9"/>
<ellipse cx="892.4" cy="176.2" rx="165.9" ry="141.8" fill="none" stroke="#a8a8a8" stroke-width="1" stroke-dasharray="1.1 1.9"/>
<ellipse cx="892.4" cy="176.2" rx="199.08" ry="170.16" fill="none" stroke="#a8a8a8" stroke-width="1" stroke-dasharray="1.1 1.9"/>
<ellipse cx="892.4" cy="176.2" rx="232.26" ry="198.52" fill="none" stroke="#a8a8a8" stroke-width="1" stroke-dasharray="1.1 1.9"/>
<ellipse cx="892.4" cy="176.2" rx="265.44" ry="226.88" fill="none" stroke="#a8a8a8" stroke-width="1" stroke-dasharray="1.1 1.9"/>
<ellipse cx="892.4" cy="176.2" rx="298.62" ry="255.24" fill="none" stroke="#a8a8a8" stroke-width="1" stroke-dasharray="1.1 1.9"/>
<path d="M876.4 176.2H1096.5M892.4 49.6V237.3" stroke="#000" stroke-width="1.1"/>
<path d="M884.8 155.1 L887.5 136.2 L892.3 132.2 L899.8 126.5 L909.5 124.7 L919.2 123.4 L928.9 126 L939.5 128.7 L949.2 133.1 L953.1 135.3 L956.6 137 L960.6 141.2 L962.2 146 L959.6 149.2 L956.2 146.4 L953.8 139.5 L952.8 128.8" fill="none" stroke="#ff0000" stroke-width="2.15" stroke-linejoin="round" stroke-linecap="square"/>
<path d="M952.8 128.8 L954.2 127.2 L959.3 122.4 L967.2 118.4 L973.1 114.5 L978.4 110.5 L982.4 107.2" fill="none" stroke="#2ca02c" stroke-width="2.15" stroke-linejoin="round" stroke-linecap="square"/>
<path d="M982.4 107.2 L986.4 103.9 L991 101.2 L1000.3 99.9 L1005.6 101.9 L1016.1 106.5 L1029.4 111.2 L1045.2 115.1 L1062.4 119.1 L1081.6 121.7 L1086.2 123.1" fill="none" stroke="#b400b4" stroke-width="2.15" stroke-linejoin="round" stroke-linecap="square"/>
<path d="M1086.2 123.1 L1082.3 125.7 L1069 131 L1053.2 137 L1042.6 138.9 L1030 140.9 L1030.4 120.4" fill="none" stroke="#0000ff" stroke-width="2.15" stroke-linejoin="round" stroke-linecap="square"/>
<ellipse cx="934.9" cy="113.7" rx="9.1" ry="7.8" fill="none" stroke="#000" stroke-width="1.3"/>
<text x="934.9" y="116.6" font-size="8" text-anchor="middle" fill="#222" >LM</text>
<ellipse cx="958.8" cy="150.2" rx="9.1" ry="7.8" fill="none" stroke="#000" stroke-width="1.3"/>
<text x="958.8" y="153.1" font-size="8" text-anchor="middle" fill="#222" >RM</text>
<text x="952.3" y="134.8" font-size="11.1" text-anchor="middle" fill="#000" stroke="#fff" stroke-width="4" stroke-linejoin="round" paint-order="stroke">3</text>
<text x="955.5" y="147.9" font-size="11.1" text-anchor="middle" fill="#000" stroke="#fff" stroke-width="4" stroke-linejoin="round" paint-order="stroke">2</text>
<text x="953.1" y="138.3" font-size="11.1" text-anchor="middle" fill="#000" stroke="#fff" stroke-width="4" stroke-linejoin="round" paint-order="stroke">1</text>
<text x="982.4" y="111.2" font-size="11.1" text-anchor="middle" fill="#000" stroke="#fff" stroke-width="4" stroke-linejoin="round" paint-order="stroke">6</text>
<text x="1086.2" y="127.1" font-size="11.1" text-anchor="middle" fill="#000" stroke="#fff" stroke-width="4" stroke-linejoin="round" paint-order="stroke">9</text>
</g>
<rect x="876.4" y="49.6" width="220.1" height="187.7" fill="none" stroke="#000" stroke-width="1.11"/>
<text x="925.58" y="193" font-size="10.6" text-anchor="middle" fill="#808080" >20</text>
<text x="958.76" y="193" font-size="10.6" text-anchor="middle" fill="#808080" >40</text>
<text x="991.94" y="193" font-size="10.6" text-anchor="middle" fill="#808080" >60</text>
<text x="1025.12" y="193" font-size="10.6" text-anchor="middle" fill="#808080" >80</text>
<text x="1058.3" y="193" font-size="10.6" text-anchor="middle" fill="#808080" >100</text>
<text x="985.6" y="250.9" font-size="11.1" text-anchor="middle" fill="#000" >Hodograph (wind in kt, height in km)</text>
<text x="876.2" y="285.7" font-family="'DejaVu Sans Mono', 'Liberation Mono', monospace" font-size="13.89" fill="#922694">SRH 0-1km:</text>
<text x="1035.1" y="285.7" font-family="'DejaVu Sans Mono', 'Liberation Mono', monospace" font-size="13.89" fill="#922694" text-anchor="end">382</text>
<text x="1043.46" y="285.7" font-size="13.89" fill="#922694"><tspan font-style="italic" dx="0.9">m</tspan><tspan font-size="9.7" dy="-5.6" dx="0.2">2</tspan><tspan font-style="italic" dy="5.6" dx="1">s</tspan><tspan font-size="9.7" dy="-5.6" dx="0.4">−2</tspan></text>
<text x="876.2" y="302.6" font-family="'DejaVu Sans Mono', 'Liberation Mono', monospace" font-size="13.89" fill="#922694">SRH 0-3km:</text>
<text x="1035.1" y="302.6" font-family="'DejaVu Sans Mono', 'Liberation Mono', monospace" font-size="13.89" fill="#922694" text-anchor="end">395</text>
<text x="1043.46" y="302.6" font-size="13.89" fill="#922694"><tspan font-style="italic" dx="0.9">m</tspan><tspan font-size="9.7" dy="-5.6" dx="0.2">2</tspan><tspan font-style="italic" dy="5.6" dx="1">s</tspan><tspan font-size="9.7" dy="-5.6" dx="0.4">−2</tspan></text>
<text x="876.2" y="321.9" font-family="'DejaVu Sans Mono', 'Liberation Mono', monospace" font-size="13.89" fill="#000">SBCAPE:</text>
<text x="1035.1" y="321.9" font-family="'DejaVu Sans Mono', 'Liberation Mono', monospace" font-size="13.89" fill="#000" text-anchor="end">0</text>
<text x="1043.46" y="321.9" font-family="'DejaVu Sans Mono', 'Liberation Mono', monospace" font-size="13.89" fill="#000">J/kg</text>
<text x="876.2" y="339.3" font-family="'DejaVu Sans Mono', 'Liberation Mono', monospace" font-size="13.89" fill="#000">MLCAPE:</text>
<text x="1035.1" y="339.3" font-family="'DejaVu Sans Mono', 'Liberation Mono', monospace" font-size="13.89" fill="#000" text-anchor="end">0</text>
<text x="1043.46" y="339.3" font-family="'DejaVu Sans Mono', 'Liberation Mono', monospace" font-size="13.89" fill="#000">J/kg</text>
<text x="876.2" y="356.8" font-family="'DejaVu Sans Mono', 'Liberation Mono', monospace" font-size="13.89" fill="#d62728">MUCAPE:</text>
<text x="1035.1" y="356.8" font-family="'DejaVu Sans Mono', 'Liberation Mono', monospace" font-size="13.89" fill="#d62728" text-anchor="end">359</text>
<text x="1043.46" y="356.8" font-family="'DejaVu Sans Mono', 'Liberation Mono', monospace" font-size="13.89" fill="#d62728">J/kg</text>
<text x="876.2" y="374.0" font-family="'DejaVu Sans Mono', 'Liberation Mono', monospace" font-size="13.89" fill="#000">SBCIN:</text>
<text x="1035.1" y="374.0" font-family="'DejaVu Sans Mono', 'Liberation Mono', monospace" font-size="13.89" fill="#000" text-anchor="end">0</text>
<text x="1043.46" y="374.0" font-family="'DejaVu Sans Mono', 'Liberation Mono', monospace" font-size="13.89" fill="#000">J/kg</text>
<text x="876.2" y="391.5" font-family="'DejaVu Sans Mono', 'Liberation Mono', monospace" font-size="13.89" fill="#000">MLCIN:</text>
<text x="1035.1" y="391.5" font-family="'DejaVu Sans Mono', 'Liberation Mono', monospace" font-size="13.89" fill="#000" text-anchor="end">0</text>
<text x="1043.46" y="391.5" font-family="'DejaVu Sans Mono', 'Liberation Mono', monospace" font-size="13.89" fill="#000">J/kg</text>
<text x="876.2" y="409.0" font-family="'DejaVu Sans Mono', 'Liberation Mono', monospace" font-size="13.89" fill="#000">DCAPE:</text>
<text x="1035.1" y="409.0" font-family="'DejaVu Sans Mono', 'Liberation Mono', monospace" font-size="13.89" fill="#000" text-anchor="end">0</text>
<text x="1043.46" y="409.0" font-family="'DejaVu Sans Mono', 'Liberation Mono', monospace" font-size="13.89" fill="#000">J/kg</text>
<text x="876.2" y="426.5" font-family="'DejaVu Sans Mono', 'Liberation Mono', monospace" font-size="13.89" fill="#a52a2a">SHR 200-850mb:</text>
<text x="1035.1" y="426.5" font-family="'DejaVu Sans Mono', 'Liberation Mono', monospace" font-size="13.89" fill="#a52a2a" text-anchor="end">45</text>
<text x="1043.46" y="426.5" font-family="'DejaVu Sans Mono', 'Liberation Mono', monospace" font-size="13.89" fill="#a52a2a">kt</text>
<text x="876.2" y="443.9" font-family="'DejaVu Sans Mono', 'Liberation Mono', monospace" font-size="13.89" fill="#138a48">RH 300-850mb:</text>
<text x="1035.1" y="443.9" font-family="'DejaVu Sans Mono', 'Liberation Mono', monospace" font-size="13.89" fill="#138a48" text-anchor="end">74</text>
<text x="1043.46" y="443.9" font-family="'DejaVu Sans Mono', 'Liberation Mono', monospace" font-size="13.89" fill="#138a48">%</text>
<text x="876.2" y="461.4" font-family="'DejaVu Sans Mono', 'Liberation Mono', monospace" font-size="13.89" fill="#000">PWAT:</text>
<text x="1035.1" y="461.4" font-family="'DejaVu Sans Mono', 'Liberation Mono', monospace" font-size="13.89" fill="#000" text-anchor="end">0.89</text>
<text x="1043.46" y="461.4" font-family="'DejaVu Sans Mono', 'Liberation Mono', monospace" font-size="13.89" fill="#000">in</text>
<clipPath id="ct"><rect x="892.6" y="500.3" width="204" height="164.9"/></clipPath>
<path clip-path="url(#ct)" d="M1026.15 499.9 L1025.14 500.33 L1023.79 500.89 L1022.18 501.57 L1020.39 502.31 L1018.51 503.11 L1016.62 503.91 L1014.8 504.69 L1013.12 505.42 L1011.55 506.11 L1010 506.8 L1008.47 507.49 L1006.95 508.18 L1005.44 508.87 L1003.93 509.56 L1002.44 510.25 L1000.95 510.94 L999.44 511.63 L997.89 512.32 L996.34 513.01 L994.8 513.7 L993.31 514.39 L991.89 515.08 L990.57 515.77 L989.37 516.46 L988.3 517.15 L987.32 517.84 L986.44 518.53 L985.63 519.22 L984.89 519.91 L984.21 520.6 L983.57 521.29 L982.98 521.98 L982.45 522.67 L982.01 523.36 L981.64 524.05 L981.31 524.74 L981.02 525.43 L980.73 526.12 L980.44 526.81 L980.13 527.5 L979.8 528.19 L979.47 528.88 L979.15 529.57 L978.84 530.26 L978.53 530.95 L978.22 531.64 L977.91 532.33 L977.6 533.02 L977.3 533.71 L977 534.4 L976.7 535.09 L976.41 535.78 L976.11 536.47 L975.82 537.16 L975.52 537.85 L975.21 538.54 L974.89 539.23 L974.56 539.92 L974.22 540.61 L973.88 541.3 L973.55 541.99 L973.23 542.68 L972.92 543.37 L972.64 544.06 L972.36 544.75 L972.06 545.44 L971.76 546.13 L971.48 546.82 L971.24 547.51 L971.05 548.2 L970.95 548.89 L970.94 549.58 L971.05 550.27 L971.26 550.96 L971.55 551.65 L971.9 552.34 L972.28 553.03 L972.67 553.72 L973.04 554.41 L973.37 555.1 L973.67 555.79 L973.96 556.48 L974.25 557.17 L974.54 557.86 L974.84 558.55 L975.15 559.24 L975.48 559.93 L975.84 560.62 L976.24 561.31 L976.68 562 L977.14 562.69 L977.61 563.38 L978.09 564.07 L978.55 564.76 L978.97 565.45 L979.36 566.14 L979.7 566.83 L980.03 567.52 L980.32 568.21 L980.6 568.9 L980.87 569.59 L981.12 570.28 L981.35 570.97 L981.58 571.66 L981.83 572.35 L982.09 573.04 L982.35 573.73 L982.59 574.42 L982.8 575.11 L982.95 575.8 L983.01 576.49 L982.99 577.18 L982.84 577.87 L982.57 578.56 L982.22 579.25 L981.81 579.94 L981.39 580.63 L980.96 581.32 L980.58 582.01 L980.26 582.7 L980 583.39 L979.77 584.08 L979.56 584.77 L979.37 585.46 L979.18 586.15 L978.99 586.84 L978.79 587.53 L978.56 588.22 L978.32 588.91 L978.05 589.6 L977.78 590.29 L977.5 590.98 L977.22 591.67 L976.96 592.36 L976.7 593.05 L976.47 593.74 L976.23 594.43 L975.97 595.12 L975.7 595.81 L975.45 596.5 L975.23 597.19 L975.08 597.88 L975.01 598.57 L975.04 599.26 L975.15 599.95 L975.32 600.64 L975.55 601.33 L975.85 602.02 L976.22 602.71 L976.67 603.4 L977.21 604.09 L977.84 604.78 L978.59 605.47 L979.47 606.16 L980.45 606.85 L981.5 607.54 L982.59 608.23 L983.7 608.92 L984.79 609.61 L985.82 610.3 L986.88 610.99 L988 611.68 L989.15 612.37 L990.29 613.06 L991.38 613.75 L992.37 614.44 L993.22 615.13 L993.89 615.82 L994.44 616.51 L994.91 617.2 L995.28 617.89 L995.54 618.58 L995.66 619.27 L995.62 619.96 L995.39 620.65 L994.95 621.34 L994.28 622.03 L993.38 622.72 L992.29 623.41 L991.03 624.1 L989.65 624.79 L988.17 625.48 L986.63 626.17 L985.06 626.86 L983.4 627.55 L981.61 628.24 L979.72 628.93 L977.75 629.62 L975.73 630.31 L973.69 631 L971.66 631.69 L969.66 632.38 L967.6 633.07 L965.43 633.76 L963.2 634.45 L960.98 635.14 L958.83 635.83 L956.82 636.52 L955.01 637.21 L953.47 637.9 L952.24 638.6 L951.27 639.32 L950.51 640.05 L949.88 640.77 L949.32 641.48 L948.79 642.16 L948.2 642.81 L947.5 643.42 L946.67 644 L945.77 644.57 L944.84 645.12 L943.91 645.64 L943.03 646.12 L942.23 646.54 L941.57 646.9 L941.07 647.17" fill="none" stroke="#2b96b4" stroke-width="2.8" stroke-linejoin="round" stroke-linecap="square"/>
<rect x="892.6" y="500.3" width="204" height="164.9" fill="none" stroke="#000" stroke-width="1.11"/>
<path d="M892.6 521.98H897.46M892.6 566.14H897.46M892.6 610.3H897.46M892.6 654.46H897.46M913.5 665.2V660.34M960.1 665.2V660.34M1006.7 665.2V660.34M1053.3 665.2V660.34" stroke="#000" stroke-width="1.11"/>
<text x="901.6" y="525.98" font-size="11.1" text-anchor="start" fill="#000" >400</text>
<text x="901.6" y="570.14" font-size="11.1" text-anchor="start" fill="#000" >600</text>
<text x="901.6" y="614.3" font-size="11.1" text-anchor="start" fill="#000" >800</text>
<text x="913.5" y="655.9" font-size="11.1" text-anchor="middle" fill="#000" >300</text>
<text x="960.1" y="655.9" font-size="11.1" text-anchor="middle" fill="#000" >310</text>
<text x="1006.7" y="655.9" font-size="11.1" text-anchor="middle" fill="#000" >320</text>
<text x="1053.3" y="655.9" font-size="11.1" text-anchor="middle" fill="#000" >330</text>
<text transform="translate(884.2 583.5) rotate(-90)" font-size="11.1" text-anchor="middle">Pressure (hPa)</text>
<text x="993.6" y="677.7" font-size="11.1" text-anchor="middle" fill="#000" >Equivalent Pot. Temperature (K)</text>
<text x="986.7" y="35.8" font-size="15.2" text-anchor="middle" fill="#808080" font-weight="bold" >TROPICALTIDBITS.COM</text>
<path d="M0 0.5H1133M0.5 0V747" stroke="#a0a0a0" stroke-width="1"/>
<path d="M1 1.5H1132M1.5 1V746" stroke="#696969" stroke-width="1"/>
<path d="M1 746.5H1133M1132.5 1V747" stroke="#e3e3e3" stroke-width="1"/>
</svg>
</body></html>
